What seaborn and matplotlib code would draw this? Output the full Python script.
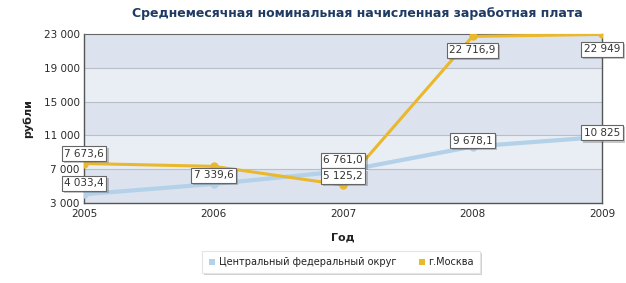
import matplotlib
matplotlib.use("Agg")
import matplotlib.pyplot as plt
import matplotlib.patheffects as pe
from matplotlib.ticker import FuncFormatter
from matplotlib.lines import Line2D
import seaborn as sns
import pandas as pd

years = [2005, 2006, 2007, 2008, 2009]
cfo = [4033.4, 5250.0, 6761.0, 9678.1, 10825.0]
moscow = [7673.6, 7339.6, 5125.2, 22716.9, 22949.0]
series_names = ["Центральный федеральный округ", "г.Москва"]
cfo_labels = ["4 033,4", None, "6 761,0", "9 678,1", "10 825"]
moscow_labels = ["7 673,6", "7 339,6", "5 125,2", "22 716,9", "22 949"]
title = "Среднемесячная номинальная начисленная заработная плата"
xlabel = "Год"
ylabel = "рубли"
yticks = [3000, 7000, 11000, 15000, 19000, 23000]

df = pd.DataFrame({
    "year": years * 2,
    "value": cfo + moscow,
    "series": [series_names[0]] * len(years) + [series_names[1]] * len(years),
})

sns.set_theme(style="white")
plt.rcParams["font.family"] = ["DejaVu Sans"]

colors = {series_names[0]: "#B3D1E8", series_names[1]: "#E9B82C"}
widths = {series_names[0]: 3.0, series_names[1]: 2.2}

fig = plt.figure(figsize=(6.26, 2.83), dpi=100)
fig.patch.set_facecolor("white")
ax = fig.add_axes([84 / 626, 1 - 203 / 283, (602 - 84) / 626, (203 - 34) / 283])

# alternating bands
for i in range(len(yticks) - 1):
    ax.axhspan(yticks[i], yticks[i + 1],
               color="#DCE3EE" if i % 2 == 0 else "#E9EDF4", zorder=0, lw=0)
for yv in yticks[1:-1]:
    ax.axhline(yv, color="#B9BEC7", lw=0.8, zorder=1)

for name in series_names:
    sub = df[df["series"] == name]
    sns.lineplot(data=sub, x="year", y="value", color=colors[name],
                 linewidth=widths[name], marker="o", markersize=6,
                 markeredgewidth=0, markerfacecolor=colors[name],
                 ax=ax, legend=False, zorder=3, solid_capstyle="round")

ax.set_xlim(2005, 2009)
ax.set_ylim(3000, 23000)
ax.set_xticks(years)
ax.set_yticks(yticks)
ax.yaxis.set_major_formatter(FuncFormatter(lambda v, p: f"{int(v):,}".replace(",", " ")))
ax.tick_params(axis="both", labelsize=7.5, length=0, pad=3)
ax.tick_params(axis="x", pad=4)
for lab in ax.get_xticklabels() + ax.get_yticklabels():
    lab.set_color("#2A2A2A")

for s in ["left", "bottom", "right"]:
    ax.spines[s].set_color("#555555")
    ax.spines[s].set_linewidth(1.0)
ax.spines["top"].set_color("#666666")
ax.spines["top"].set_linewidth(0.8)

ax.set_xlabel(xlabel, fontsize=8, fontweight="bold", color="#222222", labelpad=10)
ax.set_ylabel(ylabel, fontsize=8, fontweight="bold", color="#222222", labelpad=8)

fig.text(357 / 626, 1 - 14 / 283, title, ha="center", va="center", fontsize=9,
         fontweight="bold", color="#1F3A63")

# value labels (pixel offsets)
cfo_off = [(0, 11), None, (0, 11), (0, 6), (0, 4)]
mos_off = [(0, 10), (0, -9), (0, 9), (0, -14), (0, -15)]
for vals, labs, offs in [(cfo, cfo_labels, cfo_off), (moscow, moscow_labels, mos_off)]:
    for x, v, lab, off in zip(years, vals, labs, offs):
        if lab is None:
            continue
        t = ax.annotate(lab, (x, v), xytext=off, textcoords="offset pixels",
                        ha="center", va="center", fontsize=7.5, color="#333333",
                        annotation_clip=False, zorder=6,
                        bbox=dict(boxstyle="square,pad=0.25", fc="white",
                                  ec="#666666", lw=0.8))
        t.get_bbox_patch().set_path_effects(
            [pe.SimplePatchShadow(offset=(1.5, -1.5), alpha=0.3), pe.Normal()])

# legend
handles = [Line2D([0], [0], marker="s", linestyle="none", markersize=4,
                  markerfacecolor=colors[n], markeredgewidth=0) for n in series_names]
leg = fig.legend(handles, series_names, loc="center", bbox_to_anchor=(341 / 626, 1 - 262 / 283),
                 ncol=2, fontsize=7, frameon=True, handletextpad=0.3,
                 columnspacing=2.2, borderpad=0.6, handlelength=0.8, fancybox=False)
frame = leg.get_frame()
frame.set_facecolor("white")
frame.set_alpha(1.0)
frame.set_edgecolor("#E4E4E4")
frame.set_linewidth(0.8)
frame.set_path_effects([pe.SimplePatchShadow(offset=(1.5, -1.5), alpha=0.25), pe.Normal()])
for t in leg.get_texts():
    t.set_color("#222222")

fig.savefig("out.png", dpi=100, facecolor="white")
